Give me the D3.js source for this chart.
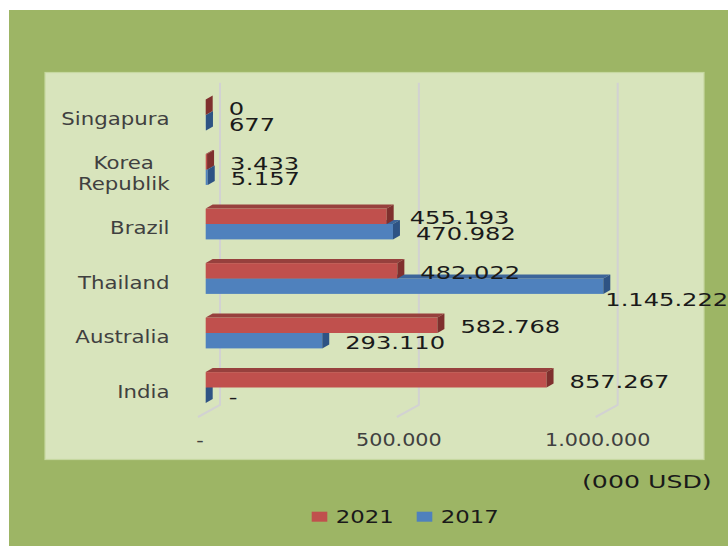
<!DOCTYPE html>
<html>
<head>
<meta charset="utf-8">
<script src="https://cdn.jsdelivr.net/npm/d3@7"></script>
<style>
  html, body { margin: 0; padding: 0; background: #ffffff; }
  svg { display: block; font-family: "DejaVu Sans", Verdana, sans-serif; }
</style>
</head>
<body>
<svg id="chart" width="728" height="546"></svg>
<script>
// Export values by destination country, thousand USD
const categories = ["Singapura", "Korea Republik", "Brazil", "Thailand", "Australia", "India"];
const seriesNames = ["2021", "2017"];
const values2021 = [0, 3433, 455193, 482022, 582768, 857267];
const values2017 = [677, 5157, 470982, 1145222, 293110, null];
const axisTicks = [0, 500000, 1000000];
const unitLabel = "(000 USD)";

const colors = {
  "2021": { front: "#C0504D", top: "#97403D", side: "#7F302E" },
  "2017": { front: "#4F81BD", top: "#3C659A", side: "#2E5384" }
};

const svg = d3.select("#chart");

// Accounting-style number format: dot thousands separator, dash for empty
const locale = d3.formatLocale({ decimal: ",", thousands: ".", grouping: [3], currency: ["", ""] });
const fmtInt = locale.format(",d");
const fmtAxis = v => (v === 0 ? "-" : fmtInt(v));
const fmtValue = v => (v == null ? "-" : fmtInt(v));

// Backgrounds
svg.append("rect").attr("x", 9).attr("y", 10).attr("width", 719).attr("height", 536).attr("fill", "#9DB565");
svg.append("rect").attr("x", 45).attr("y", 72.5).attr("width", 659).attr("height", 387)
  .attr("fill", "#D8E4BC").attr("stroke", "#C6D8A0").attr("stroke-width", 1.2);

// Scales
const x = d3.scaleLinear().domain([0, 1000000]).range([205.7, 603.3]).clamp(true);
const xBack = d3.scaleLinear().domain([0, 1000000]).range([220, 617.7]);
const y = d3.scaleBand().domain(categories).range([87.75, 414.75]);
const center = c => y(c) + y.bandwidth() / 2;

const barH = 15.4;
const depthX = 7, depthY = -4;

// Back-wall gridlines with floor edges
const grid = svg.append("g");
axisTicks.forEach(t => {
  const gx = xBack(t);
  grid.append("path")
    .attr("d", `M${gx},82.7 L${gx},405 L${gx - 22},417`)
    .attr("fill", "none").attr("stroke", "#D2D2D2").attr("stroke-width", 2);
});

// X axis labels
const axisG = svg.append("g")
  .attr("transform", "translate(-20.5,445.8)")
  .call(d3.axisBottom(xBack).tickValues(axisTicks).tickFormat(fmtAxis).tickSize(0));
axisG.select(".domain").remove();
axisG.selectAll("text")
  .attr("y", 0).attr("dy", 0)
  .attr("font-family", "DejaVu Sans")
  .attr("font-size", 17.4)
  .attr("fill", "#404040")
  .attr("transform", "scale(1.19,1)");

// 3D bars
function drawBar(g, v, yTop, yBot, col) {
  const x0 = x(0), x1 = x(v == null ? 0 : v);
  g.append("rect").attr("x", x0).attr("y", yTop).attr("width", Math.max(0, x1 - x0)).attr("height", yBot - yTop)
    .attr("fill", col.front);
  g.append("path")
    .attr("d", `M${x0},${yTop} L${x1},${yTop} L${x1 + depthX},${yTop + depthY} L${x0 + depthX},${yTop + depthY}Z`)
    .attr("fill", col.top);
  g.append("path")
    .attr("d", `M${x1},${yTop} L${x1 + depthX},${yTop + depthY} L${x1 + depthX},${yBot + depthY} L${x1},${yBot}Z`)
    .attr("fill", col.side);
}

const bars = svg.append("g");
categories.forEach((c, i) => {
  const cy = center(c);
  const g = bars.append("g");
  drawBar(g, values2017[i], cy, cy + barH, colors["2017"]);
  drawBar(g, values2021[i], cy - barH, cy, colors["2021"]);
});

// Value labels
const valueFont = 18.3, valueSx = 1.32;
const labels = svg.append("g");
function valueLabel(v, yTop, yBot) {
  const clipped = v != null && v > x.domain()[1];
  const lx = clipped ? x(v) + 2 : x(v == null ? 0 : v) + 23;
  const ly = clipped ? yBot + 5 + 0.3645 * valueFont : (yTop + yBot) / 2 + 1.4 + 0.3645 * valueFont;
  labels.append("text")
    .attr("transform", `translate(${lx},${ly}) scale(${valueSx},1)`)
    .attr("font-size", valueFont)
    .attr("fill", "#1A1A1A")
    .text(fmtValue(v));
}
categories.forEach((c, i) => {
  const cy = center(c);
  valueLabel(values2021[i], cy - barH, cy);
  valueLabel(values2017[i], cy, cy + barH);
});

// Category labels (wrapped on spaces, block right-aligned)
const catFont = 17.6, catSx = 1.21, catRight = 169.5, lineGap = 21;
const catG = svg.append("g");
categories.forEach(c => {
  const lines = c.split(" ");
  const cy = center(c) + 4;
  const texts = lines.map((ln, k) => {
    const ty = cy + (k - (lines.length - 1) / 2) * lineGap + 0.3645 * catFont;
    return catG.append("text")
      .attr("font-size", catFont)
      .attr("fill", "#404040")
      .attr("text-anchor", "middle")
      .attr("data-y", ty)
      .text(ln);
  });
  const maxW = d3.max(texts, t => t.node().getComputedTextLength()) * catSx;
  const cx = catRight - maxW / 2;
  texts.forEach(t => t.attr("transform", `translate(${cx},${t.attr("data-y")}) scale(${catSx},1)`));
});

// Unit label
svg.append("text")
  .attr("transform", "translate(711.7,487.7) scale(1.45,1)")
  .attr("text-anchor", "end")
  .attr("font-size", 17.4)
  .attr("fill", "#1A1A1A")
  .text(unitLabel);

// Legend
const legendX = [311.7, 416.7];
const legend = svg.append("g");
seriesNames.forEach((s, i) => {
  legend.append("rect").attr("x", legendX[i]).attr("y", 511.7).attr("width", 15.6).attr("height", 10)
    .attr("fill", colors[s].front);
  legend.append("text")
    .attr("transform", `translate(${legendX[i] + 24},522.6) scale(1.31,1)`)
    .attr("font-size", 17.4)
    .attr("fill", "#1A1A1A")
    .text(s);
});
</script>
</body>
</html>
